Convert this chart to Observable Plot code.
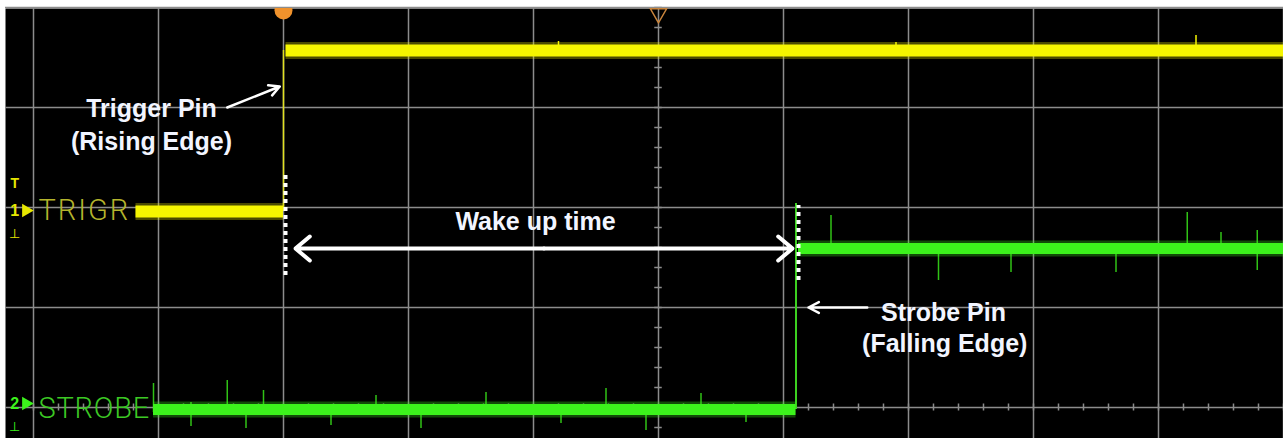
<!DOCTYPE html>
<html><head><meta charset="utf-8">
<script src="https://cdn.jsdelivr.net/npm/d3@7"></script>
<script src="https://cdn.jsdelivr.net/npm/@observablehq/plot@0.6"></script>
<style>html,body{margin:0;padding:0;background:#fff;} #chart svg{display:block}</style>
</head><body><div id="chart"></div>
<script>
// grid (divisions)
const xGrid = [0,1,2,3,4,5,6,7,8,9,10];
const yGrid = [0,1,2,3,4];

// TRIGR channel (yellow): levels in divisions
const trigrStart = [0.82, 2.02];
const trigrEnd   = [2.00, 10.0];
const trigrLevel = [1.96, 3.57];
const trigrEdgeT = [2.00];
const trigrSpikeT  = [9.30, 4.20, 6.90];
const trigrSpikeLo = [3.57, 3.55, 3.55];
const trigrSpikeHi = [3.72, 3.66, 3.65];

// STROBE channel (green)
const strobeStart = [0.96, 6.12];
const strobeEnd   = [6.10, 10.0];
const strobeLevel = [-0.02, 1.59];
const strobeEdgeT = [6.10];
const strobeSpikeT  = [0.96, 1.26, 1.55, 1.70, 1.84, 2.38, 2.74, 3.10, 3.62, 4.22, 4.58, 4.90, 5.34, 5.70, 6.38, 7.24, 7.82, 8.66, 9.23, 9.50, 9.79];
const strobeSpikeLo = [-0.05, -0.19, -0.08, -0.21, -0.02, -0.18, -0.02, -0.21, -0.02, -0.16, -0.02, -0.23, -0.02, -0.15, 1.57, 1.27, 1.35, 1.35, 1.57, 1.59, 1.37];
const strobeSpikeHi = [0.24, 0.05, 0.27, 0.02, 0.17, 0.02, 0.12, 0.02, 0.15, 0.02, 0.19, 0.02, 0.14, 0.02, 1.92, 1.62, 1.62, 1.62, 1.95, 1.75, 1.77];

// annotations
const markerT  = [2.016, 6.12];
const markerLo = [1.32, 1.27];
const markerHi = [2.32, 2.02];
const wakeFrom = [2.096, 6.072];
const wakeY = 1.59;
const noteText = ["Trigger Pin", "(Rising Edge)", "Wake up time", "Strobe Pin", "(Falling Edge)"];
const noteT    = [0.944, 0.944, 4.016, 7.28, 7.29];
const noteV    = [2.99, 2.66, 1.86, 0.95, 0.64];
const chanText = ["TRIGR", "STROBE"];
const chanV    = [1.97, -0.01];

const YEL = "#f6f600", GRN = "#3cf21c";
const seg = (s, e, l) => s.map((d, i) => ({t1: d, t2: e[i], v: l[i]}));
const spk = (t, lo, hi) => t.map((d, i) => ({t: d, lo: lo[i], hi: hi[i]}));
const trigr = seg(trigrStart, trigrEnd, trigrLevel);
const strobe = seg(strobeStart, strobeEnd, strobeLevel);
const tSp = spk(trigrSpikeT, trigrSpikeLo, trigrSpikeHi);
const sSp = spk(strobeSpikeT, strobeSpikeLo, strobeSpikeHi);
const markers = markerT.map((t, i) => ({t, lo: markerLo[i], hi: markerHi[i]}));
const wakeMid = (wakeFrom[0] + wakeFrom[1]) / 2;
const arrows = [
  {x1: wakeMid, y1: wakeY, x2: wakeFrom[0], y2: wakeY},
  {x1: wakeMid, y1: wakeY, x2: wakeFrom[1], y2: wakeY}
];
const pointers = [
  {x1: 1.55, y1: 3.00, x2: 1.97, y2: 3.21},
  {x1: 6.67, y1: 1.00, x2: 6.20, y2: 1.00}
];
const notes = noteText.map((text, i) => ({text, t: noteT[i], v: noteV[i]}));
const minorX = d3.range(0, 10.01, 0.2);
const minorY = d3.range(-0.2, 4.01, 0.2);
const FONT = "Liberation Sans, Arial, sans-serif";

const plot = Plot.plot({
  width: 1283, height: 438,
  marginTop: 8, marginLeft: 5, marginRight: 0, marginBottom: 0,
  x: {domain: [-0.224, 10], axis: null},
  y: {domain: [-0.31, 3.99], axis: null},
  style: {background: "#ffffff", overflow: "hidden"},
  marks: [
    Plot.frame({fill: "#000", stroke: "none"}),
    Plot.ruleX(xGrid, {x: d => d, stroke: "#8c8c8c", strokeWidth: 1.5}),
    Plot.ruleY(yGrid, {y: d => d, stroke: "#8c8c8c", strokeWidth: 1.5}),
    Plot.ruleX(minorX, {x: d => d, y1: -0.035, y2: 0.035, stroke: "#8c8c8c", strokeWidth: 1.5}),
    Plot.ruleY(minorY, {y: d => d, x1: 4.97, x2: 5.03, stroke: "#8c8c8c", strokeWidth: 1.5}),
    // yellow trace
    Plot.ruleX(trigrEdgeT, {x: d => d, y1: trigrLevel[0], y2: trigrLevel[1], stroke: "#e0e020", strokeWidth: 1.5}),
    Plot.ruleY(trigr, {x1: "t1", x2: "t2", y: "v", stroke: YEL, strokeWidth: 17, strokeOpacity: 0.3}),
    Plot.ruleY(trigr, {x1: "t1", x2: "t2", y: "v", stroke: YEL, strokeWidth: 12}),
    Plot.ruleX(tSp, {x: "t", y1: "lo", y2: "hi", stroke: YEL, strokeWidth: 1.5}),
    // green trace
    Plot.ruleX(strobeEdgeT, {x: d => d, y1: strobeLevel[0], y2: 2.04, stroke: "#3cd020", strokeWidth: 2}),
    Plot.ruleX(sSp, {x: "t", y1: "lo", y2: "hi", stroke: GRN, strokeWidth: 1.5, strokeOpacity: 0.8}),
    Plot.ruleY(strobe, {x1: "t1", x2: "t2", y: "v", stroke: GRN, strokeWidth: 16, strokeOpacity: 0.3}),
    Plot.ruleY(strobe, {x1: "t1", x2: "t2", y: "v", stroke: GRN, strokeWidth: 11}),
    // dotted markers
    Plot.ruleX(markers, {x: "t", y1: "lo", y2: "hi", stroke: "#fff", strokeWidth: 4, strokeDasharray: "4,4"}),
    // arrows
    Plot.arrow(arrows, {x1: "x1", y1: "y1", x2: "x2", y2: "y2", stroke: "#fff", strokeWidth: 4, headLength: 7, headAngle: 80}),
    Plot.arrow(pointers, {x1: "x1", y1: "y1", x2: "x2", y2: "y2", stroke: "#fff", strokeWidth: 2.5, headLength: 7, headAngle: 55}),
    // text
    Plot.text(notes, {x: "t", y: "v", text: "text", fill: "#f2f5ff", fontSize: 25, fontWeight: "bold", fontFamily: FONT}),
    Plot.text([chanText[0]], {x: 0.04, y: chanV[0], text: d => d, textAnchor: "start", fill: "#b4b42c", fontSize: 29, fontWeight: 300, fontFamily: "Roboto, sans-serif"}),
    Plot.text([chanText[1]], {x: 0.04, y: chanV[1], text: d => d, textAnchor: "start", fill: "#3cc824", fontSize: 29, fontWeight: 300, fontFamily: "Roboto, sans-serif"}),
    // channel markers
    Plot.text(["1", "2"], {x: -0.15, y: (d, i) => i ? 0.04 : 1.97, text: d => d, fill: (d, i) => i ? GRN : "#e6e600", fontSize: 16, fontWeight: "bold", fontFamily: FONT}),
    Plot.text(["T"], {x: -0.15, y: 2.24, text: d => d, fill: "#e6e600", fontSize: 14, fontWeight: "bold", fontFamily: FONT}),
    Plot.dot([1.97, 0.04], {x: -0.06, y: d => d, symbol: "triangle", rotate: 90, r: 5, fill: (d, i) => i ? GRN : "#e6e600", stroke: "none"}),
    Plot.text(["⊥", "⊥"], {x: -0.15, y: (d, i) => i ? -0.19 : 1.74, text: d => d, fill: (d, i) => i ? GRN : "#e6e600", fontSize: 13, fontFamily: "DejaVu Sans"}),
    // top trigger markers
    Plot.dot([2.0], {x: d => d, y: 3.97, r: 9, fill: "#f0922c", stroke: "none", clip: true}),
    Plot.dot([5.0], {x: d => d, y: 3.94, symbol: "triangle", rotate: 180, r: 6, fill: "none", stroke: "#c8843c", strokeWidth: 1.5})
  ]
});
d3.select(plot).selectAll("text").each(function() {
  const t = this.textContent;
  if (t === "TRIGR") this.setAttribute("letter-spacing", "2");
  if (t === "STROBE") this.setAttribute("letter-spacing", "0.8");
});
document.getElementById("chart").append(plot);
</script>
</body></html>
